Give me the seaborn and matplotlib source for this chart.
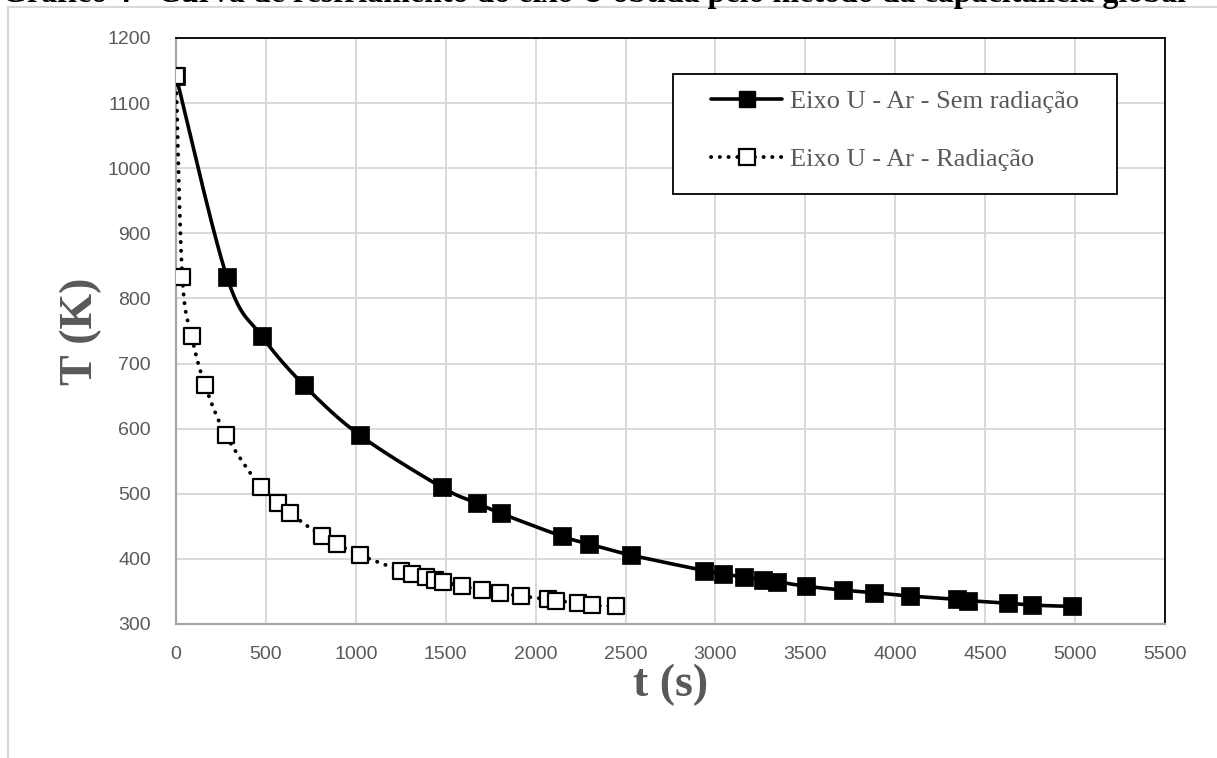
import numpy as np
import pandas as pd
import matplotlib
matplotlib.use("Agg")
import matplotlib.pyplot as plt
from matplotlib.lines import Line2D
from matplotlib.patches import Rectangle
import seaborn as sns

# ---------------- data ----------------
t_sem = [0, 283, 478, 711, 1022, 1478, 1672, 1806, 2144, 2294, 2528, 2939, 3043,
         3161, 3263, 3340, 3504, 3711, 3882, 4080, 4342, 4402, 4629, 4763, 4985]
T_sem = [1142, 833, 742, 667, 590, 510, 486, 470, 435, 423, 406, 382, 377,
         372, 368, 365, 358, 352, 348, 343, 338, 336, 332, 329, 327]

t_rad = [0, 35, 87, 161, 278, 471, 567, 635, 810, 894, 1021, 1252, 1313,
         1389, 1443, 1485, 1593, 1704, 1804, 1918, 2071, 2115, 2237, 2315, 2448]
T_rad = [1142, 833, 742, 667, 590, 510, 486, 470, 435, 423, 406, 382, 377,
         372, 368, 365, 358, 352, 348, 343, 338, 336, 332, 329, 327]

label_sem = "Eixo U - Ar - Sem radiação"
label_rad = "Eixo U - Ar - Radiação"
title = "Gráfico 4 - Curva de resfriamento do eixo U obtida pelo método da capacitância global"
xlabel = "t (s)"
ylabel = "T (K)"
xticks = list(range(0, 5501, 500))
yticks = list(range(300, 1201, 100))

XMIN, XMAX, YMIN, YMAX = 0, 5500, 300, 1200


def smooth(x, y, sx, sy, n=24):
    """Excel-style smoothed line (cubic Bezier, tension 1/6) in display-like space."""
    P = np.column_stack([np.asarray(x, float) * sx, np.asarray(y, float) * sy])
    Pp = np.vstack([P[0], P, P[-1]])
    out = []
    for i in range(len(P) - 1):
        p0, p1, p2, p3 = Pp[i], Pp[i + 1], Pp[i + 2], Pp[i + 3]
        c1 = p1 + (p2 - p0) / 6.0
        c2 = p2 - (p3 - p1) / 6.0
        s = np.linspace(0, 1, n, endpoint=(i == len(P) - 2))[:, None]
        b = ((1 - s) ** 3) * p1 + 3 * ((1 - s) ** 2) * s * c1 + 3 * (1 - s) * s ** 2 * c2 + s ** 3 * p2
        out.append(b)
    B = np.vstack(out)
    return B[:, 0] / sx, B[:, 1] / sy


# ---------------- figure ----------------
sns.set_theme(style="white")
plt.rcParams["font.family"] = ["Liberation Sans", "DejaVu Sans"]

W, H = 1217, 758
AX_L, AX_R, AX_T, AX_B = 176, 1165, 38, 624
fig = plt.figure(figsize=(W / 100, H / 100), dpi=100)
ax = fig.add_axes([AX_L / W, 1 - AX_B / H, (AX_R - AX_L) / W, (AX_B - AX_T) / H])


def ax_frac(px, py):
    return (px - AX_L) / (AX_R - AX_L), (AX_B - py) / (AX_B - AX_T)


sx = (AX_R - AX_L) / (XMAX - XMIN)
sy = (AX_B - AX_T) / (YMAX - YMIN)

df_sem = pd.DataFrame({"t": t_sem, "T": T_sem})
df_rad = pd.DataFrame({"t": t_rad, "T": T_rad})

DOT = (0, (0.05, 2.2))

xs, ys = smooth(df_sem["t"], df_sem["T"], sx, sy)
sns.lineplot(x=xs, y=ys, sort=False, estimator=None, ax=ax, color="black",
             linewidth=2.6, zorder=3)
sns.scatterplot(data=df_sem, x="t", y="T", ax=ax, marker="s", s=155, color="black",
                edgecolor="black", linewidth=0.5, zorder=4)

xr, yr = smooth(df_rad["t"], df_rad["T"], sx, sy)
sns.lineplot(x=xr, y=yr, sort=False, estimator=None, ax=ax, color="black",
             linewidth=2.8, linestyle=DOT, zorder=5)
ax.lines[-1].set_dash_capstyle("round")
sns.scatterplot(data=df_rad, x="t", y="T", ax=ax, marker="s", s=140, color="white",
                edgecolor="black", linewidth=1.6, zorder=6)

ax.set_xlim(XMIN, XMAX)
ax.set_ylim(YMIN, YMAX)
ax.set_xticks(xticks)
ax.set_yticks(yticks)
ax.set_xticklabels([str(v) for v in xticks])
ax.set_yticklabels([str(v) for v in yticks])
ax.tick_params(axis="both", length=0, labelsize=14, labelcolor="#595959")
ax.tick_params(axis="x", pad=16)
ax.tick_params(axis="y", pad=18)
ax.grid(True, color="#d9d9d9", linewidth=1.4)
ax.set_axisbelow(True)

for side in ["left", "bottom"]:
    ax.spines[side].set_color("#a6a6a6")
    ax.spines[side].set_linewidth(1.6)
for side in ["top", "right"]:
    ax.spines[side].set_color("black")
    ax.spines[side].set_linewidth(1.3)
    ax.spines[side].set_visible(True)

ax.set_xlabel(xlabel, fontsize=33, fontweight="bold", color="#595959",
              family=["Liberation Serif", "DejaVu Serif"], labelpad=0)
ax.set_ylabel(ylabel, fontsize=33, fontweight="bold", color="#595959",
              family=["Liberation Serif", "DejaVu Serif"], labelpad=4)

# legend: manual frame + frameless legend
fx0, fy0 = ax_frac(673, 194)
fx1, fy1 = ax_frac(1117, 74)
ax.add_patch(Rectangle((fx0, fy0), fx1 - fx0, fy1 - fy0, transform=ax.transAxes,
                       facecolor="white", edgecolor="black", linewidth=1.3,
                       zorder=9, clip_on=False))

handles = [
    Line2D([0], [0], color="black", linewidth=2.6, marker="s", markersize=12,
           markerfacecolor="black", markeredgecolor="black"),
    Line2D([0], [0], color="black", linewidth=2.8, linestyle=DOT,
           dash_capstyle="round", marker="s", markersize=11.5,
           markerfacecolor="white", markeredgecolor="black", markeredgewidth=1.6),
]
leg = ax.legend(handles, [label_sem, label_rad], loc="upper left",
                bbox_to_anchor=ax_frac(711, 90),
                borderaxespad=0, frameon=False, numpoints=1,
                prop={"family": ["Liberation Serif", "DejaVu Serif"], "size": 19},
                labelcolor="#595959", handlelength=2.7, handletextpad=0.3,
                labelspacing=1.3, borderpad=0)
leg.set_zorder(10)

# title (clipped by the top of the image, as in the reference)
fig.text(2 / W, 1 - 9 / H, title, ha="left", va="bottom", fontsize=23,
         fontweight="bold", family=["Liberation Serif", "DejaVu Serif"], color="black")

# light outer frame
fig.add_artist(Line2D([8 / W, 1], [1 - 7 / H, 1 - 7 / H], transform=fig.transFigure,
                      color="#d9d9d9", linewidth=1.5))
fig.add_artist(Line2D([8 / W, 8 / W], [0, 1 - 7 / H], transform=fig.transFigure,
                      color="#d9d9d9", linewidth=1.5))

fig.savefig("out.png", dpi=100)
